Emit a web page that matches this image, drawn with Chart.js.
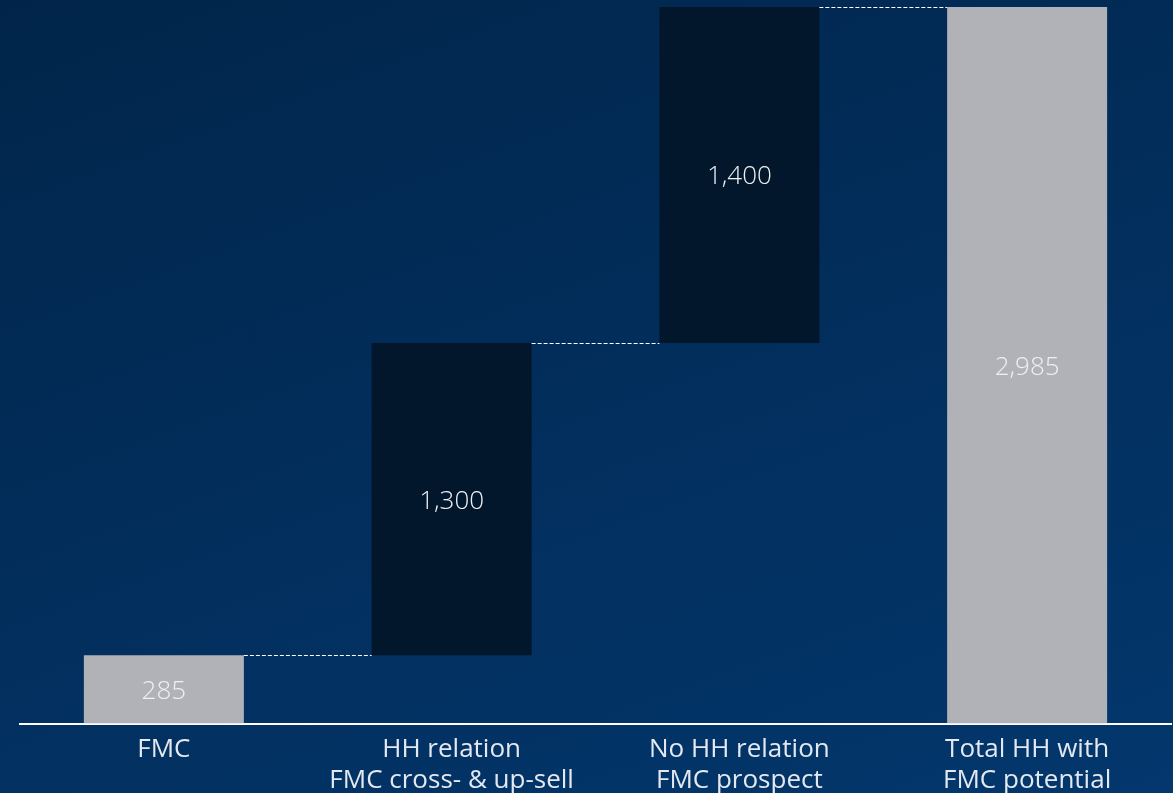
<!DOCTYPE html>
<html>
<head>
<meta charset="utf-8">
<script src="https://cdn.jsdelivr.net/npm/chart.js@4.4.1/dist/chart.umd.min.js"></script>
<style>
html,body{margin:0;padding:0;width:1173px;height:793px;overflow:hidden;}
body{background:linear-gradient(160deg,#01254a 0%,#022e5c 50%,#03376d 100%);}
#wrap{position:relative;width:1173px;height:793px;}
</style>
</head>
<body>
<div id="wrap"><canvas id="c" width="1173" height="793"></canvas></div>
<script>
const categories = [["FMC"], ["HH relation", "FMC cross- & up-sell"], ["No HH relation", "FMC prospect"], ["Total HH with", "FMC potential"]];
const values = [285, 1300, 1400, 2985];
const isTotal = [false, false, false, true];
const valueLabels = ["285", "1,300", "1,400", "2,985"];

const colorGray = "#b0b2b8";
const colorDark = "#02172b";

let running = 0;
const ranges = values.map((v, i) => {
  if (isTotal[i]) { return [0, v]; }
  const r = [running, running + v];
  running += v;
  return r;
});
const colors = values.map((v, i) => (i === 0 || isTotal[i]) ? colorGray : colorDark);

const FONT = "'Open Sans', 'Liberation Sans', sans-serif";

const overlay = {
  id: 'overlay',
  afterDatasetsDraw(chart) {
    const ctx = chart.ctx;
    const meta = chart.getDatasetMeta(0);
    const els = meta.data;
    ctx.save();
    ctx.strokeStyle = "#ffffff";
    ctx.lineWidth = 1;
    ctx.setLineDash([4, 2]);
    for (let i = 0; i < els.length - 1; i++) {
      const a = els[i], b = els[i + 1];
      const ya = Math.min(a.y, a.base);
      const y = Math.round(ya) + 0.5;
      ctx.beginPath();
      ctx.moveTo(a.x + a.width / 2, y);
      ctx.lineTo(b.x - b.width / 2, y);
      ctx.stroke();
    }
    ctx.setLineDash([]);
    ctx.fillStyle = "#eef0f4";
    ctx.font = "300 26px " + FONT;
    ctx.textAlign = "center";
    ctx.textBaseline = "middle";
    els.forEach((el, i) => {
      const cy = (el.y + el.base) / 2 + 2;
      ctx.fillText(valueLabels[i], el.x, cy);
    });
    ctx.restore();
  }
};

new Chart(document.getElementById('c'), {
  type: 'bar',
  data: {
    labels: categories,
    datasets: [{
      data: ranges,
      backgroundColor: colors,
      borderWidth: 0,
      barPercentage: 0.556,
      categoryPercentage: 1.0
    }]
  },
  options: {
    responsive: false,
    animation: false,
    events: [],
    layout: { padding: { left: 20, right: 2, top: 7, bottom: -13 } },
    plugins: { legend: { display: false }, tooltip: { enabled: false } },
    scales: {
      x: {
        grid: { display: false, drawTicks: false },
        border: { display: true, color: "#ffffff", width: 2 },
        ticks: {
          color: "#e4e8f0",
          font: { family: FONT, size: 26, lineHeight: 1.2 },
          padding: 10,
          maxRotation: 0,
          autoSkip: false
        }
      },
      y: {
        display: false,
        min: 0,
        max: 2985
      }
    }
  },
  plugins: [overlay]
});
</script>
</body>
</html>
